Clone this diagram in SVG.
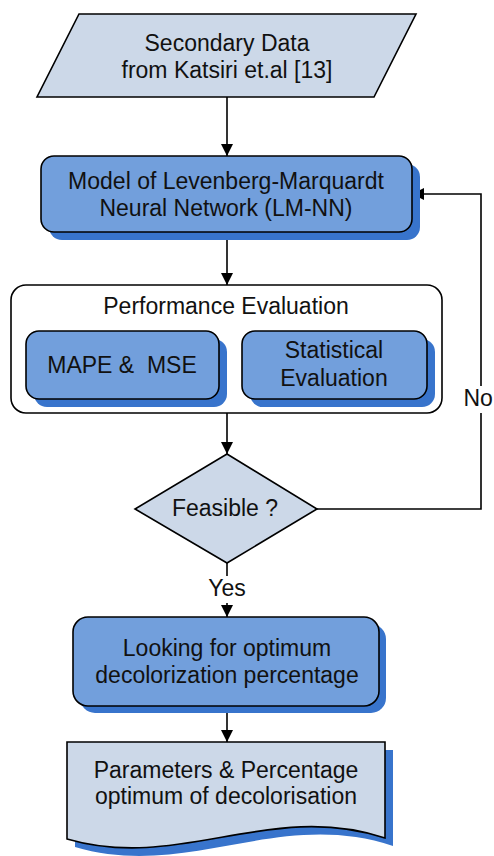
<svg xmlns="http://www.w3.org/2000/svg" width="494" height="856" viewBox="0 0 494 856">
  <defs>
    <marker id="arrow" viewBox="0 0 12 12" markerWidth="12" markerHeight="12" refX="12" refY="6" orient="auto" markerUnits="userSpaceOnUse">
      <path d="M0,0 L12,6 L0,12 Z" fill="#000"/>
    </marker>
  </defs>
  <style>
    text { font-family: "Liberation Sans", Arial, sans-serif; font-size: 23px; fill: #111; text-anchor: middle; }
    .light { fill: #ccd8e8; stroke: #000; stroke-width: 1.6; }
    .blue { fill: #729fdc; stroke: #000; stroke-width: 1.6; }
    .shadow { fill: #3874cc; stroke: none; }
    .frame { fill: #fff; stroke: #000; stroke-width: 1.6; }
    .conn { fill: none; stroke: #000; stroke-width: 1.6; }
  </style>
  <rect width="494" height="856" fill="#fff"/>

  <!-- connectors -->
  <g id="connectors">
    <line class="conn" x1="227" y1="97" x2="227" y2="156" marker-end="url(#arrow)"/>
    <line class="conn" x1="227" y1="232" x2="227" y2="285" marker-end="url(#arrow)"/>
    <line class="conn" x1="227" y1="413" x2="227" y2="454" marker-end="url(#arrow)"/>
    <polyline class="conn" points="317,509 481,509 481,194 412,194" marker-end="url(#arrow)"/>
    <line class="conn" x1="227" y1="563" x2="227" y2="617" marker-end="url(#arrow)"/>
    <line class="conn" x1="227" y1="706" x2="227" y2="742" marker-end="url(#arrow)"/>
    <rect x="461" y="386" width="33" height="27" fill="#fff"/>
    <text x="463.5" y="406" style="text-anchor:start">No</text>
    <rect x="204" y="576" width="46" height="27" fill="#fff"/>
    <text x="227" y="596">Yes</text>
  </g>

  <!-- input data -->
  <g id="secondary-data">
    <polygon class="light" points="79,14 416,14 374,97 37,97"/>
    <text x="227" y="51">Secondary Data</text>
    <text x="227" y="78">from Katsiri et.al [13]</text>
  </g>

  <!-- neural network model -->
  <g id="lm-nn">
    <rect class="shadow" x="49" y="164" width="371" height="76" rx="13"/>
    <rect class="blue" x="41" y="156" width="371" height="76" rx="13"/>
    <text x="226" y="189">Model of Levenberg-Marquardt</text>
    <text x="226" y="216">Neural Network (LM-NN)</text>
  </g>

  <!-- evaluation container -->
  <g id="performance-evaluation">
    <rect class="frame" x="11" y="285" width="431" height="128" rx="15"/>
    <text x="226" y="314">Performance Evaluation</text>
  </g>

  <g id="mape-mse">
    <rect class="shadow" x="34" y="339" width="193" height="68" rx="13"/>
    <rect class="blue" x="26" y="331" width="193" height="68" rx="13"/>
    <text x="122" y="373" xml:space="preserve">MAPE &amp;  MSE</text>
  </g>

  <g id="statistical-evaluation">
    <rect class="shadow" x="250" y="339" width="185" height="68" rx="13"/>
    <rect class="blue" x="242" y="331" width="185" height="68" rx="13"/>
    <text x="334" y="358">Statistical</text>
    <text x="334" y="386">Evaluation</text>
  </g>

  <!-- decision -->
  <g id="feasible">
    <polygon class="light" points="227,454 317,509 227,563 135,509"/>
    <text x="225" y="516">Feasible ?</text>
  </g>

  <!-- optimum search -->
  <g id="optimum-search">
    <rect class="shadow" x="80" y="624" width="306" height="89" rx="15"/>
    <rect class="blue" x="73" y="617" width="306" height="89" rx="15"/>
    <text x="227" y="656">Looking for optimum</text>
    <text x="227" y="683">decolorization percentage</text>
  </g>

  <!-- output document -->
  <g id="result-document">
    <path class="shadow" d="M75,750 L393,750 L393,846 C278,808 188,880 75,847 Z"/>
    <path class="light" d="M67,742 L385,742 L385,838 C270,800 180,872 67,839 Z"/>
    <text x="226" y="778">Parameters &amp; Percentage</text>
    <text x="226" y="804">optimum of decolorisation</text>
  </g>
</svg>
